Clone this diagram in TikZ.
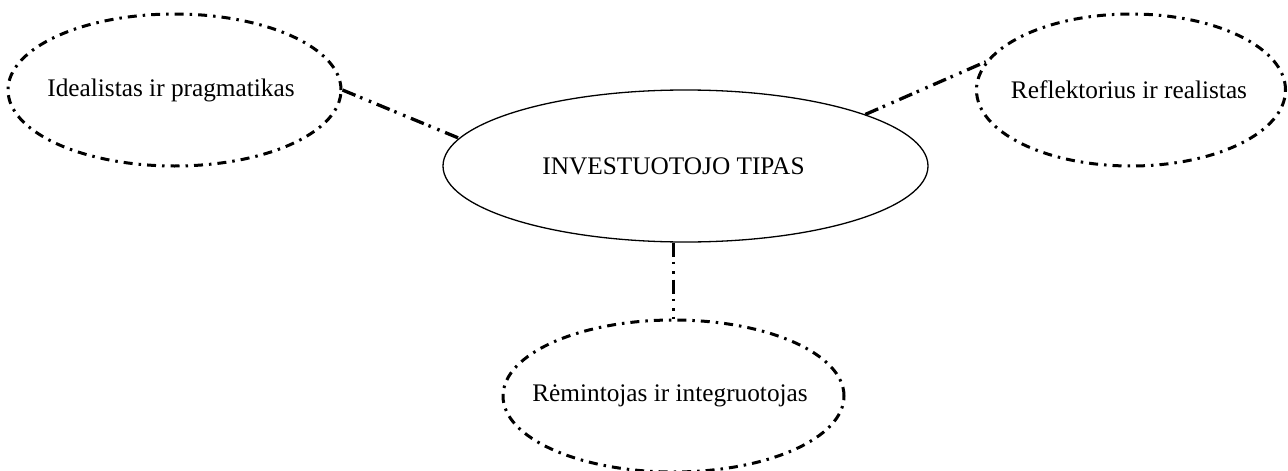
\documentclass[tikz,border=0pt]{standalone}
\usepackage{fontspec}
\setmainfont{Liberation Serif}
\usetikzlibrary{shapes.geometric}
\begin{document}
\begin{tikzpicture}[x=1pt,y=-1pt,
  lbl/.style={font=\fontsize{25.3}{30}\selectfont},
  sideell/.style={ellipse,draw,line width=3pt,inner sep=0pt,
    dash pattern=on 9pt off 6pt on 2.5pt off 6pt},
  mainell/.style={ellipse,draw,line width=1.3pt,inner sep=0pt},
  link/.style={line width=3.3pt,dash pattern=on 14pt off 5pt on 2.5pt off 7pt on 2.5pt off 6pt}]
\useasboundingbox (0,0) rectangle (1288,471);
\node[mainell,minimum width=485pt,minimum height=152pt,
  label={[lbl,xshift=-12pt]center:INVESTUOTOJO TIPAS}] (C) at (685.5,166) {};
\node[sideell,minimum width=333pt,minimum height=152pt,
  label={[lbl,xshift=-3.5pt]center:Idealistas ir pragmatikas}] (L) at (174.5,90) {};
\node[sideell,minimum width=309pt,minimum height=152pt,
  label={[lbl,xshift=-2pt]center:Reflektorius ir realistas}] (R) at (1131,90) {};
\node[sideell,minimum width=341pt,minimum height=152pt,
  label={[lbl,xshift=-3.5pt]center:Rėmintojas ir integruotojas}] (B) at (673.5,396) {};
\draw[link] (L.east) -- (C.173);
\draw[link] (C.16.6) -- (R.169.5);
\draw[link] (C.south -| B.north) -- (B.north);
\end{tikzpicture}
\end{document}
